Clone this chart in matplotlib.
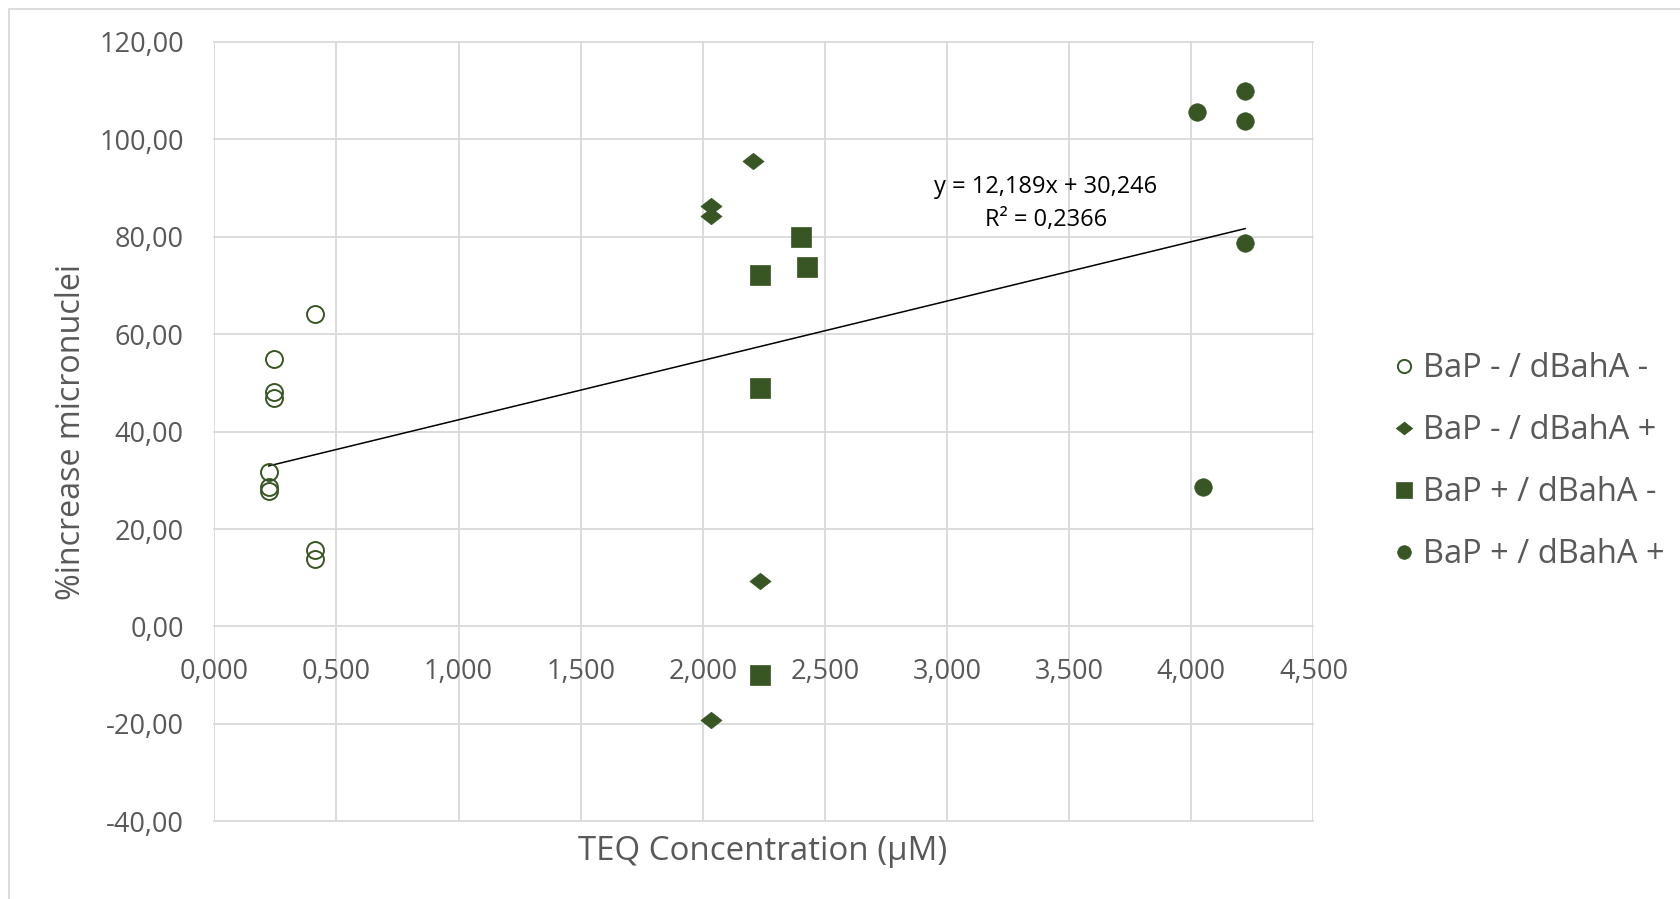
import matplotlib
matplotlib.use("Agg")
import matplotlib.pyplot as plt
import numpy as np
from matplotlib.path import Path
from matplotlib.patches import Rectangle
from matplotlib.ticker import FuncFormatter

# ---- data ----
s1_label = "BaP - / dBahA -"
s1_x = [0.414, 0.243, 0.243, 0.243, 0.223, 0.223, 0.223, 0.414, 0.414]
s1_y = [64.1, 54.9, 48.2, 47.0, 31.8, 28.6, 27.9, 15.8, 13.9]

s2_label = "BaP - / dBahA +"
s2_x = [2.204, 2.032, 2.032, 2.232, 2.032]
s2_y = [95.5, 86.4, 84.3, 9.3, -19.2]

s3_label = "BaP + / dBahA -"
s3_x = [2.401, 2.428, 2.232, 2.232, 2.232]
s3_y = [79.9, 73.9, 72.1, 48.9, -10.0]

s4_label = "BaP + / dBahA +"
s4_x = [4.220, 4.023, 4.220, 4.220, 4.049]
s4_y = [110.0, 105.7, 103.8, 78.7, 28.7]

trend_slope = 12.189
trend_intercept = 30.246
trend_r2 = 0.2366
eq_text = "y = 12,189x + 30,246"
r2_text = "R\u00b2 = 0,2366"

x_ticks = [0.0, 0.5, 1.0, 1.5, 2.0, 2.5, 3.0, 3.5, 4.0, 4.5]
y_ticks = [-40, -20, 0, 20, 40, 60, 80, 100, 120]
x_label = "TEQ Concentration (\u00b5M)"
y_label = "%increase micronuclei"

# ---- style ----
W, H = 1681, 899
GREEN = "#375623"
TXT = "#595959"
GRID = "#D9D9D9"
FONT = ["Open Sans", "DejaVu Sans"]
plt.rcParams["font.family"] = FONT

fig = plt.figure(figsize=(W / 100, H / 100), dpi=100)
fig.patch.set_facecolor("white")

# chart area border (cropped at right/bottom)
fig.patches.append(Rectangle((9 / W, -0.1), 2.0, 1 - 9 / H + 0.1, transform=fig.transFigure,
                             fill=False, edgecolor=GRID, linewidth=1.3))

left, right = 214.3 / W, 1313.5 / W
top, bottom = 1 - 42.0 / H, 1 - 821.3 / H
ax = fig.add_axes([left, bottom, right - left, top - bottom])
ax.set_xlim(0, 4.5)
ax.set_ylim(-40, 120)

ax.set_xticks(x_ticks)
ax.set_yticks(y_ticks)
ax.xaxis.set_major_formatter(FuncFormatter(lambda v, p: f"{v:.3f}".replace(".", ",")))
ax.yaxis.set_major_formatter(FuncFormatter(lambda v, p: f"{v:.2f}".replace(".", ",")))
ax.grid(True, color=GRID, linewidth=1.3)
ax.set_axisbelow(True)
for ln in ax.get_xgridlines() + ax.get_ygridlines():
    ln.set_clip_on(False)
for sp in ax.spines.values():
    sp.set_visible(False)
ax.spines["bottom"].set_position(("data", 0))
ax.tick_params(axis="both", length=0, labelsize=19.5, labelcolor=TXT)
ax.tick_params(axis="x", pad=23)
ax.tick_params(axis="y", pad=22)

# markers
diamond = Path([(-1, 0), (0, 0.78), (1, 0), (0, -0.78), (-1, 0)],
               [Path.MOVETO, Path.LINETO, Path.LINETO, Path.LINETO, Path.CLOSEPOLY])

ax.plot(s1_x, s1_y, linestyle="none", marker="o", markersize=12.2, markerfacecolor="none",
        markeredgecolor=GREEN, markeredgewidth=1.4, label=s1_label, zorder=3)
ax.plot(s2_x, s2_y, linestyle="none", marker=diamond, markersize=15.2, markerfacecolor=GREEN,
        markeredgecolor=GREEN, markeredgewidth=0.5, label=s2_label, zorder=3)
ax.plot(s3_x, s3_y, linestyle="none", marker="s", markersize=14.4, markerfacecolor=GREEN,
        markeredgecolor=GREEN, markeredgewidth=0.5, label=s3_label, zorder=3)
ax.plot(s4_x, s4_y, linestyle="none", marker="o", markersize=12.6, markerfacecolor=GREEN,
        markeredgecolor=GREEN, markeredgewidth=0.5, label=s4_label, zorder=3)

# linear trendline over the data range
all_x = np.array(s1_x + s2_x + s3_x + s4_x)
tx = np.array([all_x.min(), all_x.max()])
ax.plot(tx, trend_slope * tx + trend_intercept, color="black", linewidth=1.1, zorder=2)

ax.text(3.404, 90.3, eq_text, ha="center", va="center", fontsize=17, color="black")
ax.text(3.404, 83.4, r2_text, ha="center", va="center", fontsize=17, color="black")

ax.set_xlabel(x_label, fontsize=23.8, color=TXT, va="center")
ax.xaxis.set_label_coords(763 / W, 1 - 851 / H, transform=fig.transFigure)

ax.set_ylabel(y_label, fontsize=23.2, color=TXT)
ax.yaxis.set_label_coords((88 - 214.3) / (1313.5 - 214.3), 0.5)

leg = fig.legend(loc="upper left", bbox_to_anchor=(1391 / W, 1 - 352 / H), frameon=False,
                 fontsize=23.5, labelcolor=TXT, markerscale=0.78, handlelength=0.8,
                 handletextpad=0.19, labelspacing=0.89, borderaxespad=0, borderpad=0)

fig.savefig("out.png", dpi=100, facecolor="white")
